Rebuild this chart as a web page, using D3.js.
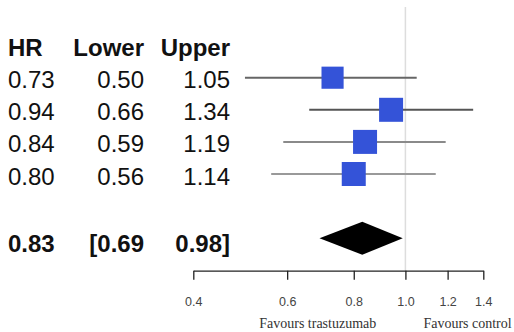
<!DOCTYPE html>
<html>
<head>
<meta charset="utf-8">
<script src="https://cdn.jsdelivr.net/npm/d3@7"></script>
<style>
  body { margin: 0; background: #fff; }
  svg { display: block; }
  .tab { font-family: "Liberation Sans", Arial, sans-serif; font-size: 24px; fill: #111; }
  .bold { font-weight: bold; }
  .axis text { font-family: "Liberation Sans", Arial, sans-serif; font-size: 12.5px; fill: #444; }
  .fav { font-family: "Liberation Serif", "Times New Roman", serif; font-size: 14px; fill: #333; }
</style>
</head>
<body>
<svg class="chart"></svg>
<script>
// DATA /////////////////////////////////
const headers = ["HR", "Lower", "Upper"];
const hr = [0.73, 0.94, 0.84, 0.80];
const lower = [0.50, 0.66, 0.59, 0.56];
const upper = [1.05, 1.34, 1.19, 1.14];
const weights = [0.85, 1, 1, 1];
const pooled = [0.83, 0.69, 0.98]; // hr, lower, upper
const tickValues = [0.4, 0.6, 0.8, 1.0, 1.2, 1.4];
const sideLabels = ["Favours trastuzumab", "Favours control"];

// STYLES ///////////////////////////////
const ciColors = ["#666", "#555", "#8a8a8a", "#999"];
const boxColor = "#3453d8";

const width = 514;
const height = 332;

const svg = d3.select(".chart").attr("width", width).attr("height", height);

const x = d3.scaleLog().domain([0.4, 1.4]).range([193.3, 483.3]);
// row -1 is the header, row 5 the pooled estimate
const y = d3.scaleLinear().domain([-1, 5]).range([45.6, 238.2]);
const boxSize = d3.scaleSqrt().domain([0, 1]).range([0, 24]);
const fmt = d3.format(".2f");

const axisY = 270.7;

// reference line at 1
svg.append("line")
  .attr("x1", x(1)).attr("x2", x(1))
  .attr("y1", 7).attr("y2", axisY)
  .attr("stroke", "#ddd")
  .attr("stroke-width", 1.5);

// TABLE ////////////////////////////////
const colX = [8, 144, 230];
const colAnchor = ["start", "end", "end"];

const table = svg.append("g").attr("class", "tab");

table.selectAll(".hdr")
  .data(headers)
  .join("text")
  .attr("class", "hdr bold")
  .attr("x", (d, i) => colX[i])
  .attr("y", y(-1) + 10)
  .attr("text-anchor", (d, i) => colAnchor[i])
  .text((d) => d);

const rows = hr.map((h, i) => [fmt(h), fmt(lower[i]), fmt(upper[i])]);

rows.forEach((r, ri) => {
  table.selectAll(`.r${ri}`)
    .data(r)
    .join("text")
    .attr("class", `r${ri}`)
    .attr("x", (d, i) => colX[i])
    .attr("y", y(ri) + 10.5)
    .attr("text-anchor", (d, i) => colAnchor[i])
    .text((d) => d);
});

const pooledText = [fmt(pooled[0]), "[" + fmt(pooled[1]), fmt(pooled[2]) + "]"];
table.selectAll(".pooled")
  .data(pooledText)
  .join("text")
  .attr("class", "pooled bold")
  .attr("x", (d, i) => colX[i])
  .attr("y", y(5) + 13.5)
  .attr("text-anchor", (d, i) => colAnchor[i])
  .text((d) => d);

// FOREST ///////////////////////////////
const plot = svg.append("g");

plot.selectAll(".ci")
  .data(hr)
  .join("line")
  .attr("class", "ci")
  .attr("x1", (d, i) => x(lower[i]))
  .attr("x2", (d, i) => x(upper[i]))
  .attr("y1", (d, i) => y(i))
  .attr("y2", (d, i) => y(i))
  .attr("stroke", (d, i) => ciColors[i])
  .attr("stroke-width", 2);

plot.selectAll(".box")
  .data(hr)
  .join("rect")
  .attr("class", "box")
  .attr("x", (d, i) => x(d) - boxSize(weights[i]) / 2)
  .attr("y", (d, i) => y(i) - boxSize(weights[i]) / 2)
  .attr("width", (d, i) => boxSize(weights[i]))
  .attr("height", (d, i) => boxSize(weights[i]))
  .attr("fill", boxColor);

const dh = 16.5;
const yp = y(5);
plot.append("path")
  .attr("d", d3.line()([
    [x(pooled[1]), yp],
    [x(pooled[0]), yp - dh],
    [x(pooled[2]) + 2, yp],
    [x(pooled[0]), yp + dh]
  ]) + "Z")
  .attr("fill", "#000");

// AXIS /////////////////////////////////
const axis = svg.append("g")
  .attr("class", "axis")
  .attr("transform", `translate(0, ${axisY})`)
  .call(d3.axisBottom(x)
    .tickValues(tickValues)
    .tickFormat(d3.format(".1f"))
    .tickSize(9)
    .tickSizeOuter(0)
    .tickPadding(17));

axis.select(".domain").attr("stroke", "#222").attr("stroke-width", 1.3);
axis.selectAll(".tick line").attr("stroke", "#222").attr("stroke-width", 1.3);

svg.selectAll(".fav")
  .data(sideLabels)
  .join("text")
  .attr("class", "fav")
  .attr("x", (d, i) => (i === 0 ? x(0.8) - 36 : x(1.0) + 18))
  .attr("y", 328)
  .attr("text-anchor", (d, i) => (i === 0 ? "middle" : "start"))
  .text((d) => d);
</script>
</body>
</html>
